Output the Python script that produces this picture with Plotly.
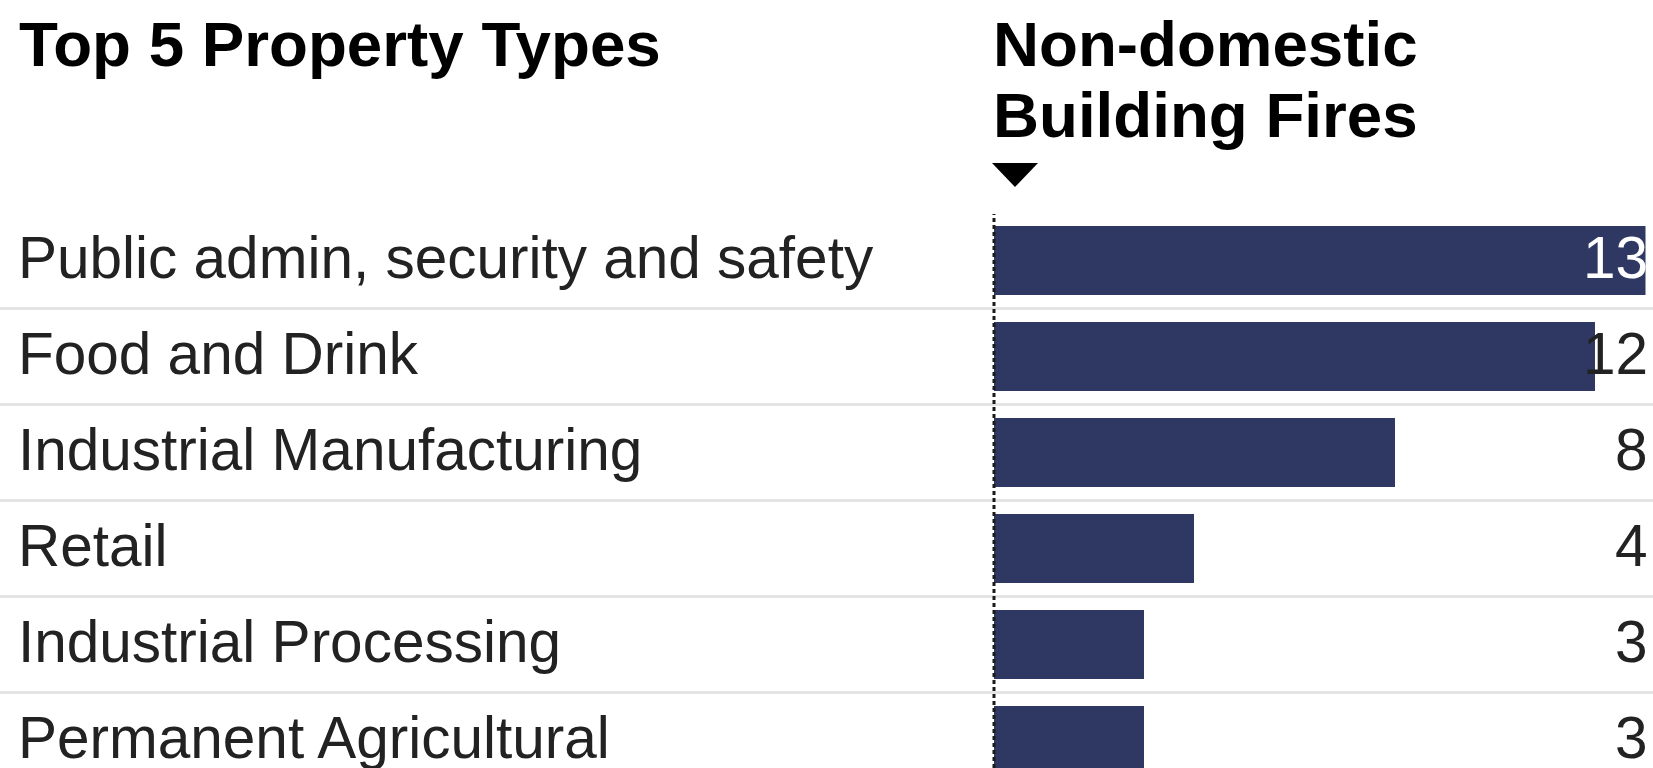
import plotly.graph_objects as go

# Data
categories = [
    "Public admin, security and safety",
    "Food and Drink",
    "Industrial Manufacturing",
    "Retail",
    "Industrial Processing",
    "Permanent Agricultural",
]
values = [13, 12, 8, 4, 3, 3]
label_colors = ["#ffffff", "#222222", "#222222", "#222222", "#222222", "#222222"]
left_title = "Top 5 Property Types"
right_title_lines = ["Non-domestic", "Building Fires"]

W, H = 1653, 768
BAR = "#2e3862"
TEXT = "#222222"
FONT = "Liberation Sans, Arial, Helvetica, sans-serif"


def fx(px):
    return px / W


def fy(py):
    return 1 - py / H


X0 = fx(994)  # left edge of the bar scale

fig = go.Figure()
fig.add_bar(
    x=values,
    y=categories,
    orientation="h",
    marker=dict(color=BAR, line=dict(width=0)),
    width=0.72,
    hoverinfo="skip",
)

annotations = []
# Category names on the left
for cat in categories:
    annotations.append(dict(
        x=fx(16), xref="paper", y=cat, yref="y",
        text=cat, showarrow=False, xanchor="left", yanchor="middle",
        yshift=3, font=dict(family=FONT, size=58.5, color=TEXT),
    ))
# Value labels, right-aligned at the end of the scale
for cat, v, c in zip(categories, values, label_colors):
    annotations.append(dict(
        x=max(values), xref="x", y=cat, yref="y",
        text=str(v), showarrow=False, xanchor="right", yanchor="middle",
        xshift=4, yshift=3, font=dict(family=FONT, size=58.5, color=c),
    ))
# Headers
annotations.append(dict(
    x=fx(17), xref="paper", y=fy(44), yref="paper", text=left_title,
    showarrow=False, xanchor="left", yanchor="middle",
    font=dict(family=FONT, size=63.7, color="#000000", weight="bold"),
))
for i, line in enumerate(right_title_lines):
    annotations.append(dict(
        x=fx(991), xref="paper", y=fy(44 + 70 * i), yref="paper", text=line,
        showarrow=False, xanchor="left", yanchor="middle",
        font=dict(family=FONT, size=63.7, color="#000000", weight="bold"),
    ))

shapes = []
# Row separators
for i in range(len(categories)):
    shapes.append(dict(
        type="line", xref="paper", x0=0, x1=1, yref="y", y0=i + 0.5, y1=i + 0.5,
        line=dict(color="#e4e4e4", width=3), layer="below",
    ))
# Dashed baseline at zero
shapes.append(dict(
    type="line", xref="paper", x0=X0, x1=X0, yref="paper", y0=0, y1=fy(214),
    line=dict(color="#1a1a1a", width=3, dash="4px,3px"), layer="above",
))
# Sort indicator triangle
shapes.append(dict(
    type="path", xref="paper", yref="paper",
    path=f"M {fx(992)},{fy(163)} L {fx(1038)},{fy(163)} L {fx(1015)},{fy(187)} Z",
    fillcolor="#000000", line=dict(width=0),
))

fig.update_layout(
    width=W, height=H, autosize=False,
    margin=dict(l=0, r=0, t=0, b=0, pad=0),
    paper_bgcolor="white", plot_bgcolor="white",
    showlegend=False, bargap=0,
    xaxis=dict(range=[0, max(values)], domain=[X0, fx(1645.5)], visible=False,
               fixedrange=True),
    yaxis=dict(type="category", categoryorder="array", categoryarray=categories,
               range=[5.2865, -2.7135], visible=False, fixedrange=True),
    annotations=annotations,
    shapes=shapes,
)

fig.write_html("out.html")
